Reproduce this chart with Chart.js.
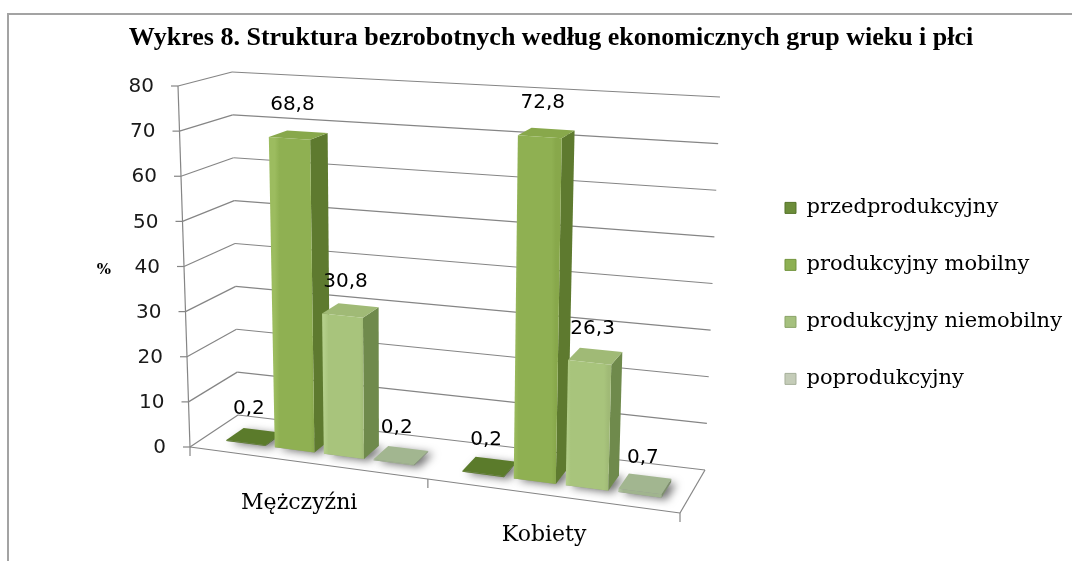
<!DOCTYPE html>
<html>
<head>
<meta charset="utf-8">
<script src="https://cdn.jsdelivr.net/npm/chart.js@4.4.1/dist/chart.umd.min.js"></script>
<style>
html, body { margin: 0; padding: 0; background: #fff; }
#wrap { width: 1072px; height: 561px; }
</style>
</head>
<body>
<div id="wrap"><canvas id="myChart" width="1072" height="561"></canvas></div>
<script>
// data
var chartTitle = "Wykres 8. Struktura bezrobotnych według ekonomicznych grup wieku i płci";
var categories = ["Mężczyźni", "Kobiety"];
var seriesNames = ["przedprodukcyjny", "produkcyjny mobilny", "produkcyjny niemobilny", "poprodukcyjny"];
var przedprodukcyjny = [0.2, 0.2];
var produkcyjnyMobilny = [68.8, 72.8];
var produkcyjnyNiemobilny = [30.8, 26.3];
var poprodukcyjny = [0.2, 0.7];
var yMin = 0, yMax = 80, yStep = 10;
var yTitle = "%";

// face colours per series
var faceColors = [
    {front: "#5e7e2d", top: "#5b7b2b", side: "#4a6622", light: "#6a8a38", legend: "#6c8d3a", border: "#55742a"},
    {front: "#8fb052", top: "#88a84b", side: "#5e7a2f", light: "#9cbc5f", legend: "#8db053", border: "#74953f"},
    {front: "#a8c47c", top: "#a0ba76", side: "#6f8a4c", light: "#b4cf8a", legend: "#a5c07e", border: "#8ba468"},
    {front: "#a0b48e", top: "#a2b690", side: "#7d8f6c", light: "#b2c4a2", legend: "#c4ccb8", border: "#a6b09b"}
];

// 3D box of the plot: corner offsets from the chart area (top corners from top, bottom ones from bottom)
var view = {
    ftl: [-12, 0], btl: [42, -14], ftr: [502, 32], btr: [530, 11],
    fbl: [0, 0], bbl: [48, -32], fbr: [490, 66], bbr: [515, 23],
    persp: 1.06, front: 0.28, back: 0.65
};

function lerp(a, b, s) {
    return [a[0] + (b[0] - a[0]) * s, a[1] + (b[1] - a[1]) * s];
}

function projector(ca) {
    var L = ca.left, T = ca.top, B = ca.bottom;
    function at(o, base) { return [L + o[0], base + o[1]]; }
    var c = {
        ftl: at(view.ftl, T), ftr: at(view.ftr, T), btl: at(view.btl, T), btr: at(view.btr, T),
        fbl: at(view.fbl, B), fbr: at(view.fbr, B), bbl: at(view.bbl, B), bbr: at(view.bbr, B)
    };
    return function (u, t, d) {
        var uu = u / (u + view.persp * (1 - u));
        var fb = lerp(c.fbl, c.fbr, uu), ft = lerp(c.ftl, c.ftr, uu);
        var bb = lerp(c.bbl, c.bbr, uu), bt = lerp(c.btl, c.btr, uu);
        return lerp(lerp(fb, bb, d), lerp(ft, bt, d), t);
    };
}

function fmt(v) {
    return v.toFixed(1).replace(".", ",");
}

var bars3d = {
    id: "bars3d",
    beforeDraw: function (chart) {
        var ctx = chart.ctx;
        ctx.save();
        ctx.fillStyle = "#fff";
        ctx.fillRect(0, 0, chart.width, chart.height);
        ctx.strokeStyle = "#a3a3a3";
        ctx.lineWidth = 2;
        ctx.beginPath();
        ctx.moveTo(8, chart.height);
        ctx.lineTo(8, 14);
        ctx.lineTo(chart.width, 14);
        ctx.stroke();
        ctx.fillStyle = "#000";
        ctx.font = 'bold 26px "Liberation Serif"';
        ctx.textAlign = "center";
        ctx.textBaseline = "middle";
        ctx.fillText(chartTitle, 551, 38);
        ctx.restore();
    },
    beforeDatasetsDraw: function (chart) {
        var ctx = chart.ctx, ca = chart.chartArea;
        var ys = chart.scales.y, xs = chart.scales.x;
        var P = projector(ca);
        var d0 = view.front, d1 = view.back;

        function line(a, b) {
            ctx.beginPath();
            ctx.moveTo(a[0], a[1]);
            ctx.lineTo(b[0], b[1]);
            ctx.stroke();
        }
        function poly(pts, fill) {
            ctx.beginPath();
            ctx.moveTo(pts[0][0], pts[0][1]);
            for (var k = 1; k < pts.length; k++) ctx.lineTo(pts[k][0], pts[k][1]);
            ctx.closePath();
            ctx.fillStyle = fill;
            ctx.fill();
        }
        function tOf(v) { return (ca.bottom - ys.getPixelForValue(v)) / ca.height; }

        ctx.save();
        // walls and grid
        ctx.strokeStyle = "#858585";
        ctx.lineWidth = 1.2;
        ctx.fillStyle = "#1a1a1a";
        ctx.font = '20px "DejaVu Sans"';
        ctx.textAlign = "right";
        ctx.textBaseline = "middle";
        ys.ticks.forEach(function (tk) {
            var t = tOf(tk.value);
            var a = P(0, t, 0);
            line(a, P(0, t, 1));
            line(P(0, t, 1), P(1, t, 1));
            line([a[0] - 7, a[1]], a);
            ctx.fillText(String(tk.value), a[0] - 24, a[1] + 1);
        });
        line(P(0, 0, 0), P(0, 1, 0));
        line(P(0, 0, 0), P(1, 0, 0));
        line(P(1, 0, 0), P(1, 0, 1));

        // category ticks at the front edge
        var mid = ((xs.getPixelForValue(0) + xs.getPixelForValue(1)) / 2 - ca.left) / ca.width;
        [0, mid, 1].forEach(function (u) {
            var a = P(u, 0, 0);
            line(a, [a[0], a[1] + 9]);
        });

        // y title
        var yt = P(0, 0.5, 0);
        ctx.font = 'bold 15px "DejaVu Serif"';
        ctx.textAlign = "center";
        ctx.fillStyle = "#000";
        ctx.fillText(yTitle, yt[0] - 80, yt[1] + 4);

        // category labels
        ctx.font = '22px "DejaVu Serif"';
        categories.forEach(function (cat, j) {
            var u = (xs.getPixelForValue(j) - ca.left) / ca.width;
            var a = P(u, 0, 0);
            ctx.fillText(cat, a[0] - 8, a[1] + 40);
        });

        // collect bars from the library's elements
        var bars = [];
        chart.data.datasets.forEach(function (ds, i) {
            chart.getDatasetMeta(i).data.forEach(function (el, j) {
                var p = el.getProps(["x", "y", "base", "width"], true);
                bars.push({
                    i: i,
                    u0: (p.x - p.width / 2 - ca.left) / ca.width,
                    u1: (p.x + p.width / 2 - ca.left) / ca.width,
                    t0: (ca.bottom - p.base) / ca.height,
                    t1: (ca.bottom - p.y) / ca.height,
                    value: ds.data[j]
                });
            });
        });
        bars.sort(function (a, b) { return a.u0 - b.u0; });

        // soft shadows on the floor
        bars.forEach(function (b) {
            ctx.save();
            ctx.shadowColor = "rgba(0,0,0,0.55)";
            ctx.shadowBlur = 9;
            ctx.shadowOffsetX = 5;
            ctx.shadowOffsetY = 2;
            poly([P(b.u0, b.t0, d0), P(b.u1, b.t0, d0), P(b.u1, b.t0, d1), P(b.u0, b.t0, d1)], "rgba(150,150,150,1)");
            ctx.restore();
        });

        // boxes
        bars.forEach(function (b) {
            var col = faceColors[b.i];
            poly([P(b.u1, b.t0, d0), P(b.u1, b.t0, d1), P(b.u1, b.t1, d1), P(b.u1, b.t1, d0)], col.side);
            poly([P(b.u0, b.t1, d0), P(b.u1, b.t1, d0), P(b.u1, b.t1, d1), P(b.u0, b.t1, d1)], col.top);
            var a = P(b.u0, b.t0, d0), c = P(b.u1, b.t0, d0);
            var g = ctx.createLinearGradient(a[0], 0, c[0], 0);
            g.addColorStop(0, col.light);
            g.addColorStop(0.12, col.front);
            g.addColorStop(0.9, col.front);
            g.addColorStop(1, col.top);
            poly([P(b.u0, b.t0, d0), P(b.u1, b.t0, d0), P(b.u1, b.t1, d0), P(b.u0, b.t1, d0)], g);
        });

        // value labels
        ctx.font = '20px "DejaVu Sans"';
        ctx.fillStyle = "#000";
        ctx.textAlign = "center";
        bars.forEach(function (b) {
            var q = P((b.u0 + b.u1) / 2, b.t1, d0);
            ctx.fillText(fmt(b.value), q[0] + 3, q[1] - 34);
        });
        ctx.restore();
        return false;
    }
};

var seriesValues = [przedprodukcyjny, produkcyjnyMobilny, produkcyjnyNiemobilny, poprodukcyjny];
var datasets = seriesNames.map(function (name, i) {
    return {
        label: name,
        data: seriesValues[i],
        backgroundColor: faceColors[i].legend,
        borderColor: faceColors[i].border,
        borderWidth: 1,
        categoryPercentage: 0.84,
        barPercentage: 0.81
    };
});

var ctx = document.getElementById("myChart").getContext("2d");
var myChart = new Chart(ctx, {
    type: "bar",
    data: {labels: categories, datasets: datasets},
    options: {
        responsive: false,
        animation: false,
        devicePixelRatio: 1,
        layout: {padding: {left: 190, right: 0, top: 86, bottom: 114}},
        plugins: {
            title: {display: false},
            tooltip: {enabled: false},
            legend: {
                position: "right",
                align: "start",
                title: {display: true, text: " ", padding: {top: 61, bottom: 0}},
                labels: {
                    boxWidth: 11,
                    boxHeight: 11,
                    padding: 36,
                    color: "#000",
                    font: {family: "DejaVu Serif", size: 21}
                }
            }
        },
        scales: {
            x: {display: false},
            y: {display: false, min: yMin, max: yMax, ticks: {stepSize: yStep}}
        }
    },
    plugins: [bars3d]
});
</script>
</body>
</html>
